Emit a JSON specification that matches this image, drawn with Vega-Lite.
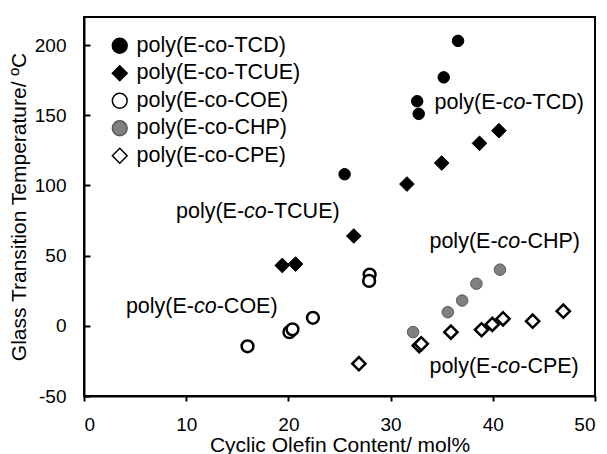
{
  "$schema": "https://vega.github.io/schema/vega-lite/v6.json",
  "autosize": "none",
  "width": 511,
  "height": 379,
  "padding": {"left": 84, "top": 17, "right": 12, "bottom": 58},
  "background": "white",
  "config": {
    "font": "Liberation Sans",
    "view": {"stroke": "black", "strokeWidth": 2},
    "axis": {"grid": false, "domainColor": "black", "domainWidth": 2, "tickColor": "black", "tickWidth": 2, "labelColor": "black", "titleColor": "black", "titleFontWeight": "normal", "labelFont": "Liberation Sans", "titleFont": "Liberation Sans"},
    "legend": {"padding": 0}
  },
  "datasets": {
    "points": [
      {"polymer": "poly(E-co-TCD)", "olefin": 36.6, "tg": 203},
      {"polymer": "poly(E-co-TCD)", "olefin": 35.2, "tg": 177},
      {"polymer": "poly(E-co-TCD)", "olefin": 32.6, "tg": 160},
      {"polymer": "poly(E-co-TCD)", "olefin": 32.75, "tg": 151},
      {"polymer": "poly(E-co-TCD)", "olefin": 25.5, "tg": 108},
      {"polymer": "poly(E-co-TCUE)", "olefin": 40.6, "tg": 139},
      {"polymer": "poly(E-co-TCUE)", "olefin": 38.7, "tg": 130},
      {"polymer": "poly(E-co-TCUE)", "olefin": 35.0, "tg": 116},
      {"polymer": "poly(E-co-TCUE)", "olefin": 31.6, "tg": 101},
      {"polymer": "poly(E-co-TCUE)", "olefin": 26.4, "tg": 64},
      {"polymer": "poly(E-co-TCUE)", "olefin": 19.4, "tg": 43},
      {"polymer": "poly(E-co-TCUE)", "olefin": 20.7, "tg": 44},
      {"polymer": "poly(E-co-COE)", "olefin": 27.95, "tg": 36.5},
      {"polymer": "poly(E-co-COE)", "olefin": 27.9, "tg": 32},
      {"polymer": "poly(E-co-COE)", "olefin": 22.4, "tg": 5.7},
      {"polymer": "poly(E-co-COE)", "olefin": 16.0, "tg": -14.6},
      {"polymer": "poly(E-co-COE)", "olefin": 20.1, "tg": -4.5},
      {"polymer": "poly(E-co-COE)", "olefin": 20.4, "tg": -2.5},
      {"polymer": "poly(E-co-CHP)", "olefin": 40.7, "tg": 40},
      {"polymer": "poly(E-co-CHP)", "olefin": 38.4, "tg": 30},
      {"polymer": "poly(E-co-CHP)", "olefin": 37.0, "tg": 18},
      {"polymer": "poly(E-co-CHP)", "olefin": 35.6, "tg": 9.7},
      {"polymer": "poly(E-co-CHP)", "olefin": 32.2, "tg": -4.5},
      {"polymer": "poly(E-co-CPE)", "olefin": 46.9, "tg": 10.4},
      {"polymer": "poly(E-co-CPE)", "olefin": 43.9, "tg": 3.3},
      {"polymer": "poly(E-co-CPE)", "olefin": 41.0, "tg": 5},
      {"polymer": "poly(E-co-CPE)", "olefin": 39.95, "tg": 1},
      {"polymer": "poly(E-co-CPE)", "olefin": 38.9, "tg": -2.8},
      {"polymer": "poly(E-co-CPE)", "olefin": 35.9, "tg": -4.5},
      {"polymer": "poly(E-co-CPE)", "olefin": 32.8, "tg": -14.1},
      {"polymer": "poly(E-co-CPE)", "olefin": 33.0, "tg": -12.8},
      {"polymer": "poly(E-co-CPE)", "olefin": 26.9, "tg": -27}
    ],
    "labels": [
      {"olefin": 34.3, "tg": 159, "pre": "poly(E-", "mid": "co", "post": "-TCD)"},
      {"olefin": 9.0, "tg": 81, "pre": "poly(E-", "mid": "co", "post": "-TCUE)"},
      {"olefin": 4.1, "tg": 13.3, "pre": "poly(E-", "mid": "co", "post": "-COE)"},
      {"olefin": 33.8, "tg": 59.5, "pre": "poly(E-", "mid": "co", "post": "-CHP)"},
      {"olefin": 33.8, "tg": -29.4, "pre": "poly(E-", "mid": "co", "post": "-CPE)"}
    ]
  },
  "encoding": {
    "x": {"field": "olefin", "type": "quantitative", "scale": {"domain": [0, 50], "nice": false},
      "axis": {"title": "Cyclic Olefin Content/ mol%", "values": [0, 10, 20, 30, 40, 50], "tickSize": 5, "labelFontSize": 19, "labelPadding": 14, "titleFontSize": 21, "titlePadding": 0}},
    "y": {"field": "tg", "type": "quantitative", "scale": {"domain": [-50, 220], "nice": false},
      "axis": {"title": "Glass Transition Temperature/ ºC", "values": [-50, 0, 50, 100, 150, 200], "labelExpr": "replace(datum.label, '−', '-')", "tickSize": -6, "labelFontSize": 19, "labelPadding": 24, "titleFontSize": 21, "titlePadding": 5}}
  },
  "layer": [
    {
      "data": {"name": "points"},
      "mark": {"type": "point", "filled": false, "opacity": 1},
      "encoding": {
        "shape": {"field": "polymer", "type": "nominal",
          "scale": {"domain": ["poly(E-co-TCD)", "poly(E-co-TCUE)", "poly(E-co-COE)", "poly(E-co-CHP)", "poly(E-co-CPE)"], "range": ["circle", "diamond", "circle", "circle", "diamond"]},
          "legend": {"title": null, "orient": "none", "legendX": 25, "legendY": 18, "labelFontSize": 21.5, "labelLimit": 300, "labelColor": "black", "symbolSize": 220, "symbolStrokeWidth": 1.5, "rowPadding": 4.5, "labelOffset": 6}},
        "fill": {"field": "polymer", "type": "nominal",
          "scale": {"domain": ["poly(E-co-TCD)", "poly(E-co-TCUE)", "poly(E-co-COE)", "poly(E-co-CHP)", "poly(E-co-CPE)"], "range": ["black", "black", "white", "#808080", "white"]}},
        "stroke": {"field": "polymer", "type": "nominal",
          "scale": {"domain": ["poly(E-co-TCD)", "poly(E-co-TCUE)", "poly(E-co-COE)", "poly(E-co-CHP)", "poly(E-co-CPE)"], "range": ["black", "black", "black", "#555555", "black"]}},
        "strokeWidth": {"condition": {"test": "datum.polymer === 'poly(E-co-COE)' || datum.polymer === 'poly(E-co-CPE)'", "value": 2.5}, "value": 1},
        "size": {"condition": [
          {"test": "datum.polymer === 'poly(E-co-TCUE)'", "value": 216},
          {"test": "datum.polymer === 'poly(E-co-CPE)'", "value": 174},
          {"test": "datum.polymer === 'poly(E-co-COE)'", "value": 139}
        ], "value": 132}
      }
    },
    {
      "data": {"name": "labels"},
      "mark": {"type": "text", "align": "left", "baseline": "middle", "fontSize": 21.5, "font": "Liberation Sans", "color": "black"},
      "encoding": {"text": {"field": "pre"}}
    },
    {
      "data": {"name": "labels"},
      "mark": {"type": "text", "align": "left", "baseline": "middle", "fontSize": 21.5, "font": "Liberation Sans", "fontStyle": "italic", "color": "black", "dx": 68.1},
      "encoding": {"text": {"field": "mid"}}
    },
    {
      "data": {"name": "labels"},
      "mark": {"type": "text", "align": "left", "baseline": "middle", "fontSize": 21.5, "font": "Liberation Sans", "color": "black", "dx": 90.8},
      "encoding": {"text": {"field": "post"}}
    }
  ]
}
